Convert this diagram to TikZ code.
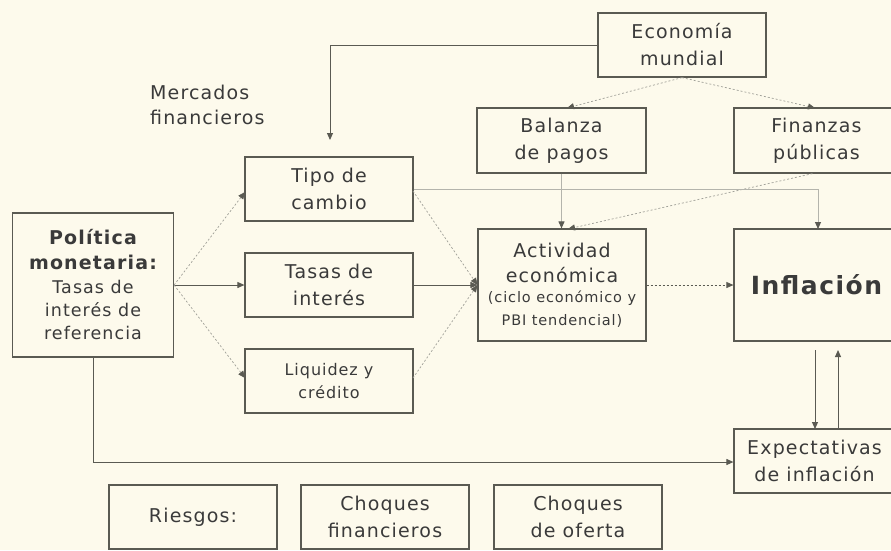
\documentclass[tikz,border=0pt]{standalone}
\usepackage{fontspec}
\setmainfont{DejaVu Sans}[LetterSpace=6]
\usetikzlibrary{arrows.meta,calc}
\definecolor{bgc}{HTML}{FDFAEC}
\definecolor{boxc}{HTML}{5A5A52}
\definecolor{txt}{HTML}{3A3A3A}
\definecolor{lightl}{HTML}{B4B4AC}
\definecolor{dotl}{HTML}{A0A098}
\newcommand\polbold{\bfseries\fontsize{19}{26}\selectfont}
\newcommand\polsmall{\fontsize{17.5}{24}\selectfont}
\newcommand\actsmall{\fontsize{14.5}{20}\selectfont}
\begin{document}
\begin{tikzpicture}[x=1pt,y=-1pt,
  box/.style={draw=boxc,line width=1.2pt,fill=bgc,text=txt,align=center,inner sep=0pt,
    font=\fontsize{19}{27}\selectfont},
  tip/.style={-{Triangle[length=7pt,width=6pt,color=boxc]}},
  darkline/.style={draw=boxc,line width=1pt},
  lightline/.style={draw=lightl,line width=1pt},
  dotline/.style={draw=dotl,line width=0.7pt,dash pattern=on 2pt off 2pt}]
\fill[bgc] (0,0) rectangle (891,550);
\useasboundingbox (0,0) rectangle (891,550);

\node[box,minimum width=168pt,minimum height=64pt] (eco) at (682,45) {Economía\\mundial};
\node[box,minimum width=169pt,minimum height=65pt] (bal) at (561.5,140.5) {Balanza\\de pagos};
\node[box,minimum width=165pt,minimum height=65pt] (fin) at (816.5,140.5) {Finanzas\\públicas};
\node[box,minimum width=168pt,minimum height=64pt] (tipo) at (329,189) {Tipo de\\cambio};
\node[box,minimum width=161pt,minimum height=144pt] (pol) at (93,285)
  {\polbold Política\\[-2pt]\polbold monetaria:\\[-3pt]
   \polsmall Tasas de\\[-4pt]\polsmall interés de\\[-4pt]\polsmall referencia};
\node[box,minimum width=168pt,minimum height=64pt] (tasas) at (329,285) {Tasas de\\interés};
\node[box,minimum width=168pt,minimum height=64pt,font=\fontsize{16}{23}\selectfont] (liq) at (329,381) {Liquidez y\\crédito};
\node[box,minimum width=168pt,minimum height=112pt] (act) at (562,285)
  {Actividad\\[-2pt]económica\\[-7pt]\actsmall (ciclo económico y\\[-4pt]\actsmall PBI tendencial)};
\node[box,minimum width=165pt,minimum height=112pt,font=\bfseries\fontsize{25}{30}\selectfont] (inf) at (816.5,285) {Inflación};
\node[box,minimum width=161pt,minimum height=64pt] (exp) at (814.5,461) {Expectativas\\de inflación};
\node[box,minimum width=168pt,minimum height=64pt] (rie) at (193,517) {Riesgos:};
\node[box,minimum width=168pt,minimum height=64pt] (chf) at (385,517) {Choques\\financieros};
\node[box,minimum width=168pt,minimum height=64pt] (cho) at (578,517) {Choques\\de oferta};
\node[text=txt,align=left,anchor=north west,inner sep=0pt,font=\fontsize{19}{25}\selectfont] (merc) at (150,85) {Mercados\\financieros};

\coordinate (tipoIn) at (330,140);
\coordinate (balIn) at (567,108);
\coordinate (finIn) at (815,108);
\coordinate (actTop) at (568,229);
\coordinate (infTop) at (818,229);
\coordinate (tipoArr) at (245,192);
\coordinate (liqArr) at (245,378);
\coordinate (tipoOut) at (413,191);
\coordinate (liqOut) at (413,378);
\coordinate (infDownA) at (815,350);
\coordinate (infUpB) at (838,350);
\coordinate (expA) at (815,429);
\coordinate (expB) at (838,429);
\coordinate (polCorner) at (93,462);

\draw[darkline,tip] (eco.west) -| (tipoIn);
\draw[dotline,tip] (eco.south) -- (balIn);
\draw[dotline,tip] (eco.south) -- (finIn);
\draw[lightline,tip] (bal.south) -- (bal.south |- act.north);
\draw[dotline,tip] ($(fin.south)+(-4,0)$) -- (actTop);
\draw[lightline,tip] (tipo.east) -| (infTop);
\draw[dotline,tip] (pol.east) -- (tipoArr);
\draw[darkline,tip] (pol.east) -- (tasas.west);
\draw[dotline,tip] (pol.east) -- (liqArr);
\draw[dotline,tip] (tipoOut) -- (act.west);
\draw[darkline,tip] (tasas.east) -- (act.west);
\draw[dotline,tip] (liqOut) -- (act.west);
\draw[dotline,draw=boxc,tip] (act.east) -- (inf.west);
\draw[darkline,tip] (infDownA) -- (expA);
\draw[darkline,tip] (expB) -- (infUpB);
\draw[darkline,tip] (pol.south) -- (polCorner) -- (polCorner -| exp.west);
\end{tikzpicture}
\end{document}
